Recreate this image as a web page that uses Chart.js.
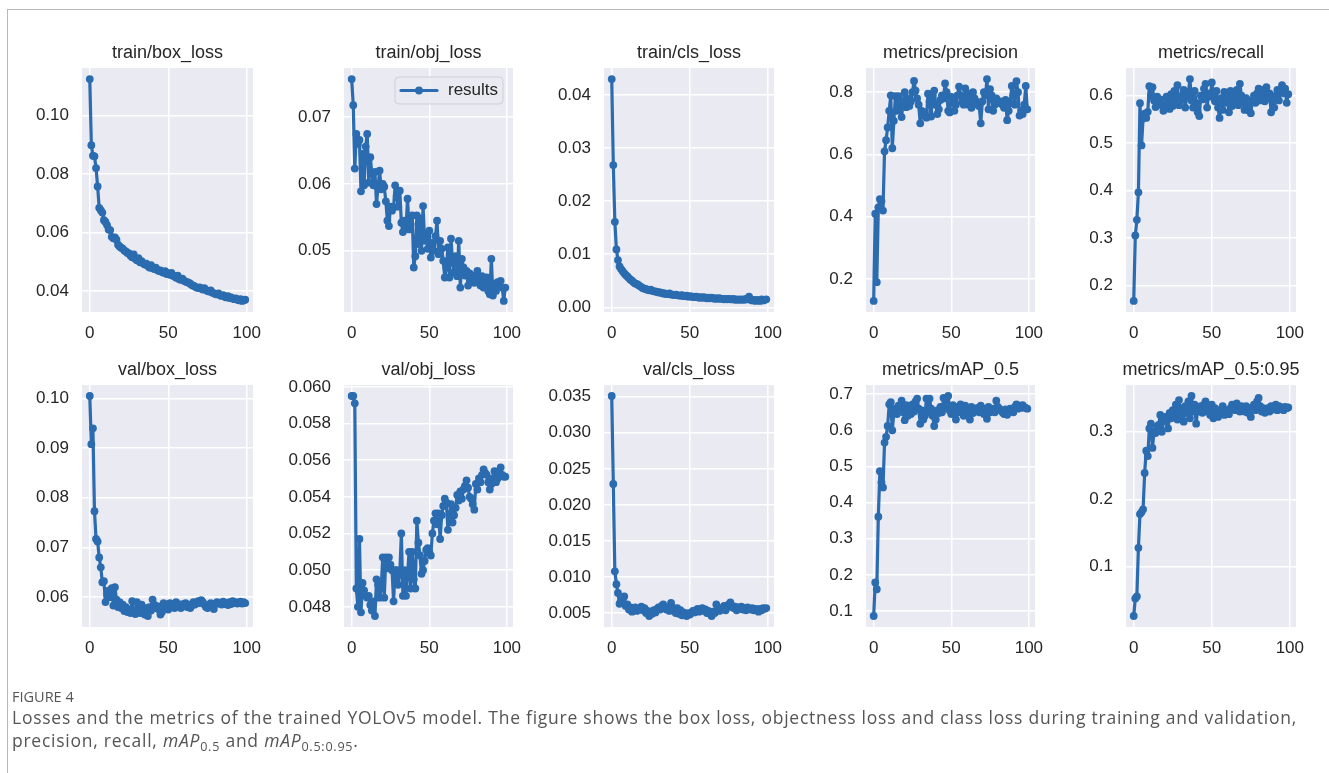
<!DOCTYPE html>
<html>
<head>
<meta charset="utf-8">
<script src="https://cdn.jsdelivr.net/npm/chart.js@4.4.0/dist/chart.umd.min.js"></script>
<style>
  body { margin: 0; background: #fff; width: 1329px; height: 773px; overflow: hidden; position: relative; }
  .frame { position: absolute; left: 7px; top: 9px; right: 0; bottom: 0; border-left: 1px solid #b8b8b8; border-top: 1px solid #b8b8b8; }
  .panel { position: absolute; }
  .fig-label { position: absolute; left: 12px; top: 687px; font: 14.5px "Open Sans", Lato, sans-serif; color: #555; white-space: nowrap; }
  .caption { position: absolute; left: 12px; top: 706px; font-family: "Open Sans", Lato, sans-serif; font-size: 17.5px; line-height: 23px; color: #555; white-space: nowrap; }
  .caption i { font-style: italic; }
  .caption sub { font-size: 0.72em; vertical-align: -0.3em; line-height: 0; }
</style>
</head>
<body>
<div class="frame"></div>
<div id="panels"></div>
<div class="fig-label">FIGURE 4</div>
<div class="caption"><span id="cap1">Losses and the metrics of the trained YOLOv5 model. The figure shows the box loss, objectness loss and class loss during training and validation,</span><br><span id="cap2">precision, recall, <i>mAP</i><sub>0.5</sub> and <i>mAP</i><sub>0.5:0.95</sub>.</span></div>

<script>
// ---- data (one value per epoch, 0..99) ----
const trainBoxLoss = [
  0.1124, 0.0898, 0.0862, 0.0860, 0.0820, 0.0757, 0.0684, 0.0676, 0.0668, 0.0642,
  0.0636, 0.0625, 0.0610, 0.0608, 0.0585, 0.0580, 0.0583, 0.0575, 0.0558, 0.0552,
  0.0548, 0.0545, 0.0538, 0.0535, 0.0530, 0.0528, 0.0520, 0.0515, 0.0525, 0.0510,
  0.0505, 0.0512, 0.0498, 0.0502, 0.0495, 0.0490, 0.0493, 0.0485, 0.0480, 0.0488,
  0.0478, 0.0475, 0.0480, 0.0472, 0.0468, 0.0470, 0.0465, 0.0462, 0.0468, 0.0458,
  0.0460, 0.0455, 0.0462, 0.0452, 0.0450, 0.0445, 0.0452, 0.0440, 0.0438, 0.0442,
  0.0435, 0.0432, 0.0430, 0.0428, 0.0425, 0.0420, 0.0418, 0.0415, 0.0412, 0.0410,
  0.0412, 0.0408, 0.0405, 0.0410, 0.0403, 0.0400, 0.0398, 0.0402, 0.0395, 0.0392,
  0.0390, 0.0388, 0.0392, 0.0385, 0.0383, 0.0386, 0.0380, 0.0378, 0.0382, 0.0376,
  0.0378, 0.0374, 0.0372, 0.0375, 0.0370, 0.0368, 0.0372, 0.0366, 0.0368, 0.0370
];
const trainObjLoss = [
  0.0757, 0.0718, 0.0623, 0.0675, 0.0660, 0.0666, 0.0589, 0.0645, 0.0598, 0.0656,
  0.0675, 0.0602, 0.0640, 0.0616, 0.0598, 0.0618, 0.0570, 0.0596, 0.0620, 0.0592,
  0.0600, 0.0596, 0.0574, 0.0545, 0.0537, 0.0566, 0.0560, 0.0565, 0.0598, 0.0582,
  0.0566, 0.0590, 0.0542, 0.0528, 0.0545, 0.0534, 0.0578, 0.0532, 0.0540, 0.0553,
  0.0475, 0.0492, 0.0553, 0.0510, 0.0548, 0.0500, 0.0567, 0.0515, 0.0525, 0.0503,
  0.0530, 0.0490, 0.0512, 0.0500, 0.0522, 0.0545, 0.0495, 0.0515, 0.0503, 0.0485,
  0.0460, 0.0475, 0.0505, 0.0460, 0.0518, 0.0485, 0.0468, 0.0492, 0.0462, 0.0515,
  0.0445, 0.0488, 0.0475, 0.0463, 0.0470, 0.0448, 0.0466, 0.0455, 0.0461, 0.0452,
  0.0463, 0.0470, 0.0458, 0.0448, 0.0462, 0.0445, 0.0455, 0.0460, 0.0440, 0.0435,
  0.0488, 0.0433, 0.0450, 0.0440, 0.0453, 0.0448, 0.0455, 0.0445, 0.0425, 0.0445
];
const trainClsLoss = [
  0.0430, 0.0268, 0.0161, 0.0109, 0.0089, 0.0077, 0.0072, 0.0068, 0.0064, 0.0061,
  0.0058, 0.0055, 0.0052, 0.0050, 0.0047, 0.0045, 0.0044, 0.0042, 0.0040, 0.0038,
  0.0036, 0.0035, 0.0034, 0.0033, 0.0032, 0.0033, 0.0031, 0.0030, 0.0030, 0.0029,
  0.0028, 0.0028, 0.0027, 0.0026, 0.0026, 0.0025, 0.0025, 0.0026, 0.0024, 0.0024,
  0.0023, 0.0024, 0.0023, 0.0022, 0.0022, 0.0023, 0.0021, 0.0021, 0.0022, 0.0020,
  0.0021, 0.0020, 0.0020, 0.0019, 0.0020, 0.0019, 0.0018, 0.0019, 0.0018, 0.0019,
  0.0018, 0.0017, 0.0018, 0.0017, 0.0018, 0.0017, 0.0016, 0.0017, 0.0016, 0.0017,
  0.0016, 0.0016, 0.0015, 0.0016, 0.0015, 0.0016, 0.0015, 0.0015, 0.0016, 0.0014,
  0.0015, 0.0014, 0.0015, 0.0014, 0.0015, 0.0014, 0.0016, 0.0015, 0.0020, 0.0014,
  0.0013, 0.0014, 0.0012, 0.0014, 0.0013, 0.0012, 0.0015, 0.0013, 0.0014, 0.0015
];
const precision = [
  0.130, 0.410, 0.190, 0.430, 0.457, 0.450, 0.420, 0.610, 0.646, 0.687,
  0.740, 0.790, 0.620, 0.708, 0.787, 0.740, 0.787, 0.756, 0.720, 0.770,
  0.800, 0.752, 0.780, 0.756, 0.770, 0.800, 0.836, 0.805, 0.780, 0.760,
  0.700, 0.740, 0.725, 0.735, 0.718, 0.795, 0.770, 0.722, 0.790, 0.805,
  0.760, 0.730, 0.745, 0.775, 0.790, 0.780, 0.828, 0.800, 0.740, 0.735,
  0.785, 0.775, 0.740, 0.760, 0.790, 0.818, 0.790, 0.770, 0.760, 0.812,
  0.780, 0.760, 0.795, 0.750, 0.800, 0.780, 0.770, 0.760, 0.755, 0.700,
  0.770, 0.800, 0.790, 0.842, 0.745, 0.810, 0.790, 0.740, 0.760, 0.780,
  0.770, 0.765, 0.770, 0.760, 0.750, 0.775, 0.710, 0.740, 0.765, 0.820,
  0.790, 0.760, 0.835, 0.800, 0.725, 0.740, 0.730, 0.760, 0.820, 0.745
];
const recall = [
  0.167, 0.305, 0.338, 0.396, 0.584, 0.495, 0.552, 0.562, 0.553, 0.566,
  0.620, 0.600, 0.618, 0.590, 0.576, 0.598, 0.585, 0.592, 0.580, 0.568,
  0.575, 0.598, 0.588, 0.572, 0.603, 0.578, 0.610, 0.585, 0.622, 0.580,
  0.590, 0.600, 0.612, 0.575, 0.598, 0.608, 0.635, 0.590, 0.575, 0.610,
  0.585, 0.565, 0.557, 0.600, 0.592, 0.615, 0.625, 0.575, 0.605, 0.598,
  0.628, 0.600, 0.588, 0.610, 0.575, 0.553, 0.595, 0.570, 0.608, 0.585,
  0.600, 0.565, 0.610, 0.578, 0.598, 0.590, 0.612, 0.580, 0.625, 0.600,
  0.588, 0.570, 0.595, 0.580, 0.568, 0.563, 0.590, 0.600, 0.585, 0.605,
  0.615, 0.590, 0.612, 0.600, 0.588, 0.618, 0.595, 0.605, 0.565, 0.590,
  0.575, 0.600, 0.612, 0.590, 0.610, 0.622, 0.605, 0.615, 0.585, 0.603
];
const valBoxLoss = [
  0.1005, 0.0908, 0.0940, 0.0773, 0.0717, 0.0712, 0.0680, 0.0660, 0.0630, 0.0632,
  0.0590, 0.0605, 0.0613, 0.0600, 0.0618, 0.0583, 0.0620, 0.0595, 0.0580, 0.0590,
  0.0578, 0.0585, 0.0572, 0.0580, 0.0570, 0.0575, 0.0568, 0.0592, 0.0570, 0.0566,
  0.0590, 0.0575, 0.0568, 0.0585, 0.0572, 0.0565, 0.0578, 0.0562, 0.0580, 0.0573,
  0.0595, 0.0585, 0.0578, 0.0582, 0.0575, 0.0565, 0.0570, 0.0588, 0.0578, 0.0583,
  0.0575, 0.0588, 0.0580, 0.0585, 0.0578, 0.0590, 0.0582, 0.0585, 0.0578, 0.0586,
  0.0582, 0.0588, 0.0580, 0.0585, 0.0578, 0.0583, 0.0590, 0.0585, 0.0588, 0.0592,
  0.0588, 0.0594, 0.0590, 0.0585, 0.0580, 0.0578, 0.0582, 0.0588, 0.0585, 0.0576,
  0.0586, 0.0590, 0.0587, 0.0589, 0.0585, 0.0591, 0.0586, 0.0588, 0.0584, 0.0590,
  0.0586, 0.0592, 0.0588, 0.0590, 0.0587, 0.0589, 0.0591, 0.0587, 0.0590, 0.0588
];
const valObjLoss = [
  0.0595, 0.0595, 0.0591, 0.0490, 0.0480, 0.0517, 0.0477, 0.0493, 0.0489, 0.0486,
  0.0485, 0.0486, 0.0481, 0.0478, 0.0483, 0.0475, 0.0495, 0.0492, 0.0485, 0.0490,
  0.0507, 0.0485, 0.0507, 0.0501, 0.0507, 0.0503, 0.0500, 0.0483, 0.0500, 0.0500,
  0.0492, 0.0498, 0.0520, 0.0486, 0.0500, 0.0486, 0.0498, 0.0510, 0.0490, 0.0510,
  0.0495, 0.0490, 0.0527, 0.0515, 0.0508, 0.0498, 0.0500, 0.0505, 0.0511, 0.0512,
  0.0510, 0.0508, 0.0520, 0.0527, 0.0531, 0.0525, 0.0531, 0.0517, 0.0530, 0.0535,
  0.0539, 0.0537, 0.0522, 0.0530, 0.0536, 0.0526, 0.0530, 0.0534, 0.0541, 0.0538,
  0.0543, 0.0539, 0.0544, 0.0546, 0.0549, 0.0545, 0.0540, 0.0539, 0.0536, 0.0533,
  0.0547, 0.0544, 0.0550, 0.0548, 0.0552, 0.0555, 0.0553, 0.0552, 0.0548, 0.0544,
  0.0547, 0.0550, 0.0554, 0.0548, 0.0550, 0.0553, 0.0556, 0.0552, 0.0551, 0.0551
];
const valClsLoss = [
  0.0351, 0.0229, 0.0108, 0.0090, 0.0078, 0.0063, 0.0067, 0.0064, 0.0073, 0.0060,
  0.0062, 0.0055, 0.0058, 0.0052, 0.0055, 0.0058, 0.0053, 0.0056, 0.0055, 0.0059,
  0.0054, 0.0057, 0.0050, 0.0053, 0.0046, 0.0052, 0.0049, 0.0054, 0.0051, 0.0056,
  0.0058, 0.0055, 0.0060, 0.0062, 0.0057, 0.0055, 0.0058, 0.0053, 0.0064, 0.0058,
  0.0055, 0.0050, 0.0057, 0.0049, 0.0054, 0.0047, 0.0051, 0.0048, 0.0046, 0.0050,
  0.0048, 0.0050, 0.0053, 0.0051, 0.0054, 0.0056, 0.0052, 0.0055, 0.0057, 0.0053,
  0.0055, 0.0050, 0.0053, 0.0049, 0.0046, 0.0052, 0.0050, 0.0062, 0.0056, 0.0053,
  0.0057, 0.0055, 0.0060, 0.0054, 0.0058, 0.0062, 0.0065, 0.0060, 0.0057, 0.0059,
  0.0054, 0.0058, 0.0056, 0.0059, 0.0055, 0.0057, 0.0054, 0.0058, 0.0056, 0.0055,
  0.0057, 0.0054, 0.0056, 0.0055, 0.0052, 0.0056, 0.0054, 0.0057, 0.0056, 0.0057
];
const mAP50 = [
  0.086, 0.179, 0.160, 0.361, 0.487, 0.456, 0.442, 0.566, 0.582, 0.612,
  0.672, 0.678, 0.600, 0.648, 0.660, 0.645, 0.668, 0.655, 0.682, 0.650,
  0.628, 0.670, 0.640, 0.660, 0.645, 0.672, 0.652, 0.680, 0.688, 0.660,
  0.618, 0.655, 0.630, 0.640, 0.688, 0.650, 0.688, 0.660, 0.640, 0.612,
  0.630, 0.655, 0.648, 0.665, 0.650, 0.690, 0.662, 0.672, 0.695, 0.655,
  0.645, 0.670, 0.655, 0.630, 0.665, 0.650, 0.672, 0.660, 0.640, 0.668,
  0.655, 0.650, 0.630, 0.665, 0.648, 0.660, 0.655, 0.662, 0.650, 0.668,
  0.655, 0.645, 0.660, 0.632, 0.665, 0.650, 0.658, 0.660, 0.650, 0.682,
  0.665, 0.660, 0.655, 0.650, 0.645, 0.658, 0.643, 0.652, 0.660, 0.655,
  0.650, 0.665, 0.672, 0.660, 0.668, 0.662, 0.670, 0.664, 0.662, 0.660
];
const mAP5095 = [
  0.027, 0.053, 0.056, 0.128, 0.178, 0.181, 0.185, 0.239, 0.272, 0.264,
  0.305, 0.312, 0.276, 0.300, 0.298, 0.308, 0.310, 0.325, 0.300, 0.318,
  0.322, 0.315, 0.305, 0.328, 0.320, 0.332, 0.325, 0.340, 0.318, 0.347,
  0.322, 0.335, 0.315, 0.338, 0.328, 0.345, 0.320, 0.353, 0.330, 0.340,
  0.312, 0.335, 0.330, 0.338, 0.328, 0.340, 0.345, 0.330, 0.336, 0.325,
  0.340, 0.320, 0.335, 0.328, 0.322, 0.332, 0.330, 0.338, 0.325, 0.332,
  0.330, 0.326, 0.335, 0.340, 0.338, 0.332, 0.342, 0.335, 0.330, 0.338,
  0.335, 0.330, 0.338, 0.328, 0.335, 0.322, 0.335, 0.340, 0.332, 0.345,
  0.350, 0.338, 0.330, 0.335, 0.328, 0.332, 0.335, 0.330, 0.338, 0.333,
  0.336, 0.340, 0.332, 0.338, 0.334, 0.336, 0.332, 0.337, 0.335, 0.336
];

const titles = ['train/box_loss', 'train/obj_loss', 'train/cls_loss', 'metrics/precision', 'metrics/recall',
                'val/box_loss', 'val/obj_loss', 'val/cls_loss', 'metrics/mAP_0.5', 'metrics/mAP_0.5:0.95'];
const series = [trainBoxLoss, trainObjLoss, trainClsLoss, precision, recall,
                valBoxLoss, valObjLoss, valClsLoss, mAP50, mAP5095];
const yTickLabels = [
  ['0.04', '0.06', '0.08', '0.10'],
  ['0.05', '0.06', '0.07'],
  ['0.00', '0.01', '0.02', '0.03', '0.04'],
  ['0.2', '0.4', '0.6', '0.8'],
  ['0.2', '0.3', '0.4', '0.5', '0.6'],
  ['0.06', '0.07', '0.08', '0.09', '0.10'],
  ['0.048', '0.050', '0.052', '0.054', '0.056', '0.058', '0.060'],
  ['0.005', '0.010', '0.015', '0.020', '0.025', '0.030', '0.035'],
  ['0.1', '0.2', '0.3', '0.4', '0.5', '0.6', '0.7'],
  ['0.1', '0.2', '0.3']
];
const xTicks = [0, 50, 100];
const legendLabel = 'results';

// ---- layout: plot-area columns/rows in page pixels ----
const cols = [[82, 253], [344, 513], [604, 774], [866, 1035], [1126, 1296]];
const rows = [[68, 312], [385, 627]];
const LINE = '#2b6cb0';
const FONT = '"Liberation Sans", Arial, Helvetica, sans-serif';
const PAD_L = 80, PAD_T = 34, PAD_R = 30, PAD_B = 45;

const plotBg = {
  id: 'plotBg',
  beforeDraw(chart) {
    const {ctx, chartArea: a} = chart;
    ctx.save();
    ctx.fillStyle = '#eaeaf2';
    ctx.fillRect(a.left, a.top, a.right - a.left, a.bottom - a.top);
    ctx.restore();
  }
};

const panelTitle = {
  id: 'panelTitle',
  afterDraw(chart, args, opts) {
    const {ctx, chartArea: a} = chart;
    ctx.save();
    ctx.font = '18px ' + FONT;
    ctx.fillStyle = '#262626';
    ctx.textAlign = 'center';
    ctx.textBaseline = 'middle';
    ctx.fillText(opts.text, (a.left + a.right) / 2, a.top - 15);
    ctx.restore();
  }
};

// small matplotlib-like legend box, only used on train/obj_loss
const boxLegend = {
  id: 'boxLegend',
  afterDraw(chart, args, opts) {
    if (!opts.show) return;
    const {ctx, chartArea: a} = chart;
    const ds = chart.data.datasets[0];
    const w = 108, h = 27;
    const x = a.right - 10 - w, y = a.top + 9;
    ctx.save();
    ctx.beginPath();
    ctx.roundRect(x, y, w, h, 4);
    ctx.fillStyle = 'rgba(234,234,242,0.85)';
    ctx.fill();
    ctx.strokeStyle = '#cfcfd6';
    ctx.lineWidth = 1;
    ctx.stroke();
    const cy = y + h / 2;
    ctx.strokeStyle = ds.borderColor;
    ctx.lineWidth = ds.borderWidth;
    ctx.lineCap = 'round';
    ctx.beginPath();
    ctx.moveTo(x + 6, cy);
    ctx.lineTo(x + 42, cy);
    ctx.stroke();
    ctx.fillStyle = ds.borderColor;
    ctx.beginPath();
    ctx.arc(x + 24, cy, ds.pointRadius, 0, Math.PI * 2);
    ctx.fill();
    ctx.font = '17px ' + FONT;
    ctx.fillStyle = '#262626';
    ctx.textAlign = 'left';
    ctx.textBaseline = 'middle';
    ctx.fillText(ds.label, x + 53, cy);
    ctx.restore();
  }
};

function yRange(vals) {
  const lo = Math.min(...vals), hi = Math.max(...vals);
  const m = (hi - lo) * 0.05;
  return [lo - m, hi + m];
}

function makePanel(i) {
  const [L, R] = cols[i % 5];
  const [T, B] = rows[Math.floor(i / 5)];
  const wrap = document.createElement('div');
  wrap.className = 'panel';
  wrap.style.left = (L - PAD_L) + 'px';
  wrap.style.top = (T - PAD_T) + 'px';
  const cv = document.createElement('canvas');
  cv.width = (R - L) + PAD_L + PAD_R;
  cv.height = (B - T) + PAD_T + PAD_B;
  wrap.appendChild(cv);
  document.getElementById('panels').appendChild(wrap);

  const vals = series[i];
  const labels = yTickLabels[i];
  const yVals = labels.map(parseFloat);
  const [ymin, ymax] = yRange(vals);

  return new Chart(cv.getContext('2d'), {
    type: 'line',
    data: {
      datasets: [{
        label: legendLabel,
        data: vals.map((v, ep) => ({x: ep, y: v})),
        borderColor: LINE,
        backgroundColor: LINE,
        pointBackgroundColor: LINE,
        pointBorderWidth: 0,
        pointRadius: 3.9,
        borderWidth: 3.2,
        borderJoinStyle: 'round',
        borderCapStyle: 'round',
        tension: 0
      }]
    },
    options: {
      responsive: false,
      animation: false,
      devicePixelRatio: 1,
      layout: {padding: {left: 0, top: PAD_T, right: PAD_R, bottom: 0}},
      plugins: {
        legend: {display: false},
        tooltip: {enabled: false},
        panelTitle: {text: titles[i]},
        boxLegend: {show: i === 1}
      },
      scales: {
        x: {
          type: 'linear',
          min: -4.95,
          max: 103.95,
          afterBuildTicks: s => { s.ticks = xTicks.map(v => ({value: v})); },
          afterFit: s => { s.height = PAD_B; s.paddingLeft = 0; s.paddingRight = 0; },
          grid: {color: '#ffffff', lineWidth: 1.5, drawTicks: false},
          border: {display: false},
          ticks: {color: '#262626', font: {family: FONT, size: 17}, padding: 11, maxRotation: 0, autoSkip: false}
        },
        y: {
          type: 'linear',
          min: ymin,
          max: ymax,
          afterBuildTicks: s => { s.ticks = yVals.map(v => ({value: v})); },
          afterFit: s => { s.width = PAD_L; s.paddingTop = 0; s.paddingBottom = 0; },
          grid: {color: '#ffffff', lineWidth: 1.5, drawTicks: false},
          border: {display: false},
          ticks: {
            color: '#262626', font: {family: FONT, size: 17}, padding: 13, autoSkip: false,
            callback: (v, idx) => labels[idx]
          }
        }
      }
    },
    plugins: [plotBg, panelTitle, boxLegend]
  });
}

for (let i = 0; i < titles.length; i++) makePanel(i);

// spread caption line 1 to the width it has in the figure
(function fitCaption() {
  const cap = document.querySelector('.caption');
  const span = document.getElementById('cap1');
  const w = span.getBoundingClientRect().width;
  const chars = span.textContent.length;
  const ls = (1285 - w) / chars;
  cap.style.letterSpacing = ls.toFixed(3) + 'px';
})();
</script>
</body>
</html>
